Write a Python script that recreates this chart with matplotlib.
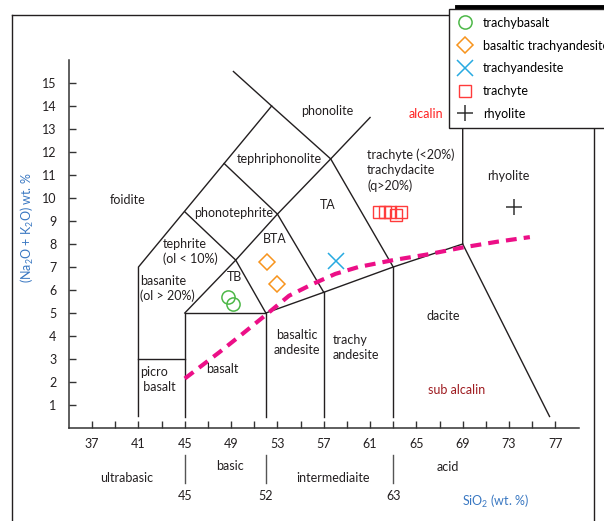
import numpy as np
import matplotlib
matplotlib.use("Agg")
import matplotlib.pyplot as plt
from matplotlib.lines import Line2D

plt.rcParams['font.family'] = ['Lato', 'DejaVu Sans']
plt.rcParams['mathtext.default'] = 'regular'

# samples (SiO2, Na2O+K2O)
trachybasalt_x = [48.7, 49.15]
trachybasalt_y = [5.7, 5.4]
bta_x = [52.1, 52.95]
bta_y = [7.2, 6.26]
trachyandesite_x = [58.1]
trachyandesite_y = [7.26]
trachyte_x = [61.8, 62.25, 62.7, 63.2, 63.7]
trachyte_y = [9.38, 9.38, 9.38, 9.25, 9.38]
rhyolite_x = [73.4]
rhyolite_y = [9.6]

# alkaline / subalkaline divide
divide_x = [45, 48, 50, 52.2, 54, 56, 58, 60, 63, 66, 69, 72, 74.8]
divide_y = [2.15, 3.3, 4.1, 5.0, 5.75, 6.25, 6.7, 7.0, 7.3, 7.55, 7.85, 8.1, 8.3]

# TAS field boundaries
boundaries = [
    [(41, 0.5), (41, 7), (52.5, 14)],
    [(41, 3), (45, 3)],
    [(45, 0.5), (45, 5), (52, 5), (52, 0.5)],
    [(45, 5), (49.4, 7.3), (52, 5)],
    [(45, 9.4), (49.4, 7.3), (53, 9.3), (57.6, 11.7)],
    [(48.4, 11.5), (53, 9.3), (57, 5.9)],
    [(49.2, 15.5), (52.5, 14), (57.6, 11.7), (63, 7)],
    [(57.6, 11.7), (61, 13.5)],
    [(52, 5), (57, 5.9), (63, 7), (69, 8)],
    [(57, 0.5), (57, 5.9)],
    [(63, 0.5), (63, 7)],
    [(69, 13), (69, 8), (76.5, 0.5)],
]

field_labels = [
    ("phonolite", 57.3, 13.8, 'center'),
    ("tephriphonolite", 53.2, 11.7, 'center'),
    ("foidite", 40.1, 9.9, 'center'),
    ("phonotephrite", 49.2, 9.35, 'center'),
    ("TA", 57.35, 9.7, 'center'),
    ("BTA", 52.8, 8.2, 'center'),
    ("TB", 49.25, 6.57, 'center'),
    ("rhyolite", 72.9, 10.96, 'center'),
    ("basalt", 48.2, 2.57, 'center'),
    ("dacite", 67.3, 4.87, 'center'),
]
multi_labels = [
    ("trachyte (<20%)\ntrachydacite\n(q>20%)", 60.75, 11.2, 'left'),
    ("tephrite\n(ol < 10%)", 43.1, 7.68, 'left'),
    ("basanite\n(ol > 20%)", 41.15, 6.07, 'left'),
    ("picro\n basalt", 41.15, 2.1, 'left'),
    ("basaltic\nandesite", 54.7, 3.73, 'center'),
    ("trachy\nandesite", 57.8, 3.52, 'left'),
]

series_labels = ["trachybasalt", "basaltic trachyandesite", "trachyandesite",
                 "trachyte", "rhyolite"]
x_ticks = list(range(37, 78, 2))
y_ticks = list(range(1, 16))

fig = plt.figure(figsize=(6.04, 5.21), dpi=100)
ax = fig.add_axes([69 / 604, 1 - 428 / 521, 509.5 / 604, 368 / 521])
ax.set_xlim(35, 79)
ax.set_ylim(0, 16)

line_col = '#231f20'
for seg in boundaries:
    xs, ys = zip(*seg)
    ax.plot(xs, ys, color=line_col, lw=1.0)

ax.plot(divide_x, divide_y, color='#ec0f87', lw=3, dashes=(2.6, 1.7),
        solid_capstyle='butt', dash_capstyle='butt')

ax.plot(trachybasalt_x, trachybasalt_y, 'o', ms=9.5, mfc='none', mec='#4db848',
        mew=1.1, label=series_labels[0])
ax.plot(bta_x, bta_y, 'D', ms=8.5, mfc='none', mec='#f7941d', mew=1.1,
        label=series_labels[1])
ax.plot(trachyandesite_x, trachyandesite_y, 'x', ms=11, mec='#27aae1', mew=1.1,
        label=series_labels[2])
ax.plot(trachyte_x, trachyte_y, 's', ms=8.5, mfc='none', mec='#ff3b3b', mew=1.0,
        label=series_labels[3])
ax.plot(rhyolite_x, rhyolite_y, '+', ms=12, mec='#333333', mew=1.1,
        label=series_labels[4])

fs = 9
for txt, x, y, ha in field_labels:
    ax.text(x, y, txt, ha=ha, va='center', fontsize=fs, color='#231f20')
for txt, x, y, ha in multi_labels:
    ax.text(x, y, txt, ha=ha, va='center', fontsize=fs, color='#231f20',
            linespacing=1.3)
ax.text(65.8, 13.65, "alcalin", ha='center', va='center', fontsize=fs, color='#ff2020')
ax.text(68.5, 1.65, "sub alcalin", ha='center', va='center', fontsize=fs, color='#9e1b20')

# axes styling
for s in ['top', 'right']:
    ax.spines[s].set_visible(False)
for s in ['left', 'bottom']:
    ax.spines[s].set_color('#333333')
    ax.spines[s].set_linewidth(1.1)
ax.set_xticks(x_ticks)
ax.set_xticklabels([str(t) if (t - 37) % 4 == 0 else '' for t in x_ticks])
ax.set_yticks(y_ticks)
ax.tick_params(direction='in', length=5, width=1, colors='#333333',
               labelsize=fs, labelcolor='#231f20')
ax.tick_params(axis='x', pad=7)
ax.tick_params(axis='y', pad=9)

# silica classes under the axis
for x, lab in [(45, "45"), (52, "52"), (63, "63")]:
    ax.plot([x, x], [-1.17, -2.4], color='#555555', lw=1, clip_on=False)
    ax.text(x, -2.95, lab, ha='center', va='center', fontsize=fs, color='#231f20')
for txt, x, y in [("ultrabasic", 39.95, -2.17), ("basic", 48.9, -1.65),
                  ("intermediaite", 57.8, -2.17), ("acid", 67.7, -1.7)]:
    ax.text(x, y, txt, ha='center', va='center', fontsize=fs, color='#231f20')

ax.text(71.8, -3.2, "SiO$_2$ (wt. %)", ha='center', va='center', fontsize=fs,
        color='#3a78c2')
ax.text(31.4, 8.7, "(Na$_2$O + K$_2$O) wt. %", ha='center', va='center',
        fontsize=fs, color='#3a78c2', rotation=90)

# outer frame
W, H = 604, 521
def fig_line(x0, y0, x1, y1, **kw):
    fig.add_artist(Line2D([x0 / W, x1 / W], [1 - y0 / H, 1 - y1 / H], **kw))
fig_line(12, 15, 12, 521, color='#231f20', lw=1)
fig_line(12, 15, 452, 15, color='#231f20', lw=1)
fig_line(594, 128, 594, 521, color='#231f20', lw=1)

leg = fig.legend(loc='upper left', bbox_to_anchor=(449 / W, 1 - 9 / H),
                 fontsize=fs, frameon=True, fancybox=False, edgecolor='#231f20',
                 framealpha=1, labelspacing=0.86, handlelength=1.3,
                 handletextpad=0.8, borderpad=0.62, borderaxespad=0)
leg.get_frame().set_linewidth(1)
fig_line(457, 6.5, 604, 6.5, color='black', lw=3.5)

fig.savefig("out.png", dpi=100)
